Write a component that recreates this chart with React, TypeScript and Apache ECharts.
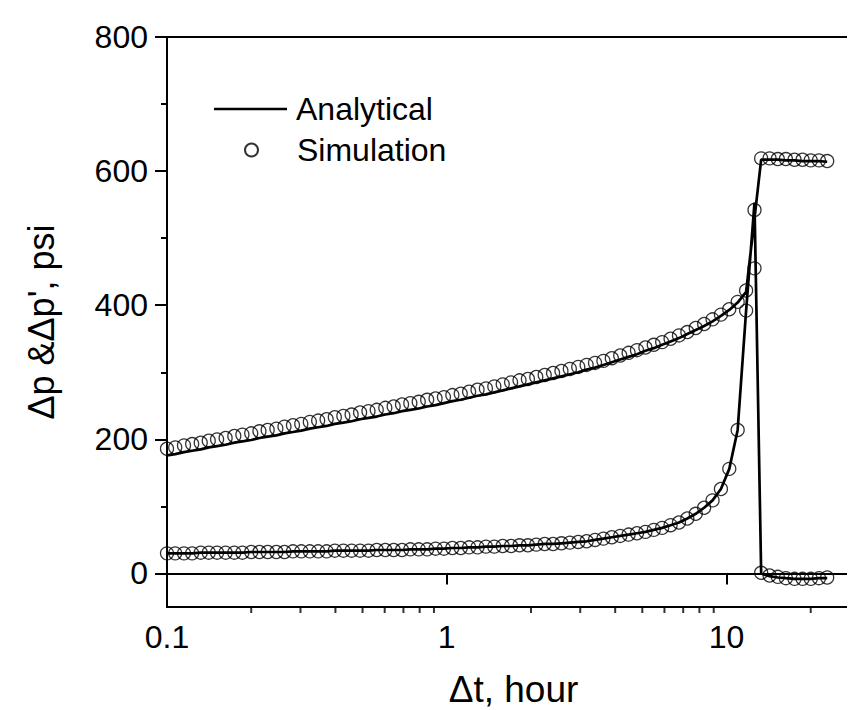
import React, { useEffect, useRef } from "react";
import * as echarts from "echarts";

// time (hours) for the early part of the test
const tEarly = [
  0.1, 0.107, 0.115, 0.123, 0.132, 0.141, 0.151, 0.162, 0.174, 0.186,
  0.2, 0.214, 0.229, 0.246, 0.263, 0.282, 0.302, 0.324, 0.347, 0.372,
  0.398, 0.427, 0.457, 0.49, 0.525, 0.562, 0.603, 0.646, 0.692, 0.741,
  0.794, 0.851, 0.912, 0.977, 1.047, 1.122, 1.202, 1.288, 1.38, 1.479,
  1.585, 1.698, 1.82, 1.95, 2.089, 2.239, 2.399, 2.57, 2.754, 2.951,
  3.162, 3.388, 3.631, 3.89, 4.169, 4.467, 4.786, 5.129, 5.495, 5.888,
  6.31, 6.761, 7.244, 7.762, 8.318, 8.913, 9.55, 10.23, 10.96, 11.75,
  12.59,
];
// time after the jump
const tLate = [13.3, 14.25, 15.25, 16.3, 17.5, 18.7, 20.0, 21.4, 22.9];

// Simulation: pressure change (upper)
const upperSim = [
  186, 188, 191, 193, 195, 198, 200, 202, 205, 207,
  209, 212, 214, 216, 219, 221, 223, 226, 228, 230,
  233, 235, 237, 240, 242, 244, 247, 249, 252, 254,
  256, 259, 261, 263, 266, 268, 271, 274, 276, 279,
  282, 285, 288, 290, 293, 296, 299, 302, 305, 308,
  311, 314, 317, 321, 325, 329, 333, 337, 341, 345,
  350, 355, 360, 366, 372, 379, 386, 394, 405, 422,
  455,
];
const upperSimLate = [619, 619, 618, 618, 617, 617, 616, 616, 615];

// Simulation: derivative (lower)
const lowerSim = [
  30, 30, 30, 30, 31, 31, 31, 31, 31, 31,
  32, 32, 32, 32, 32, 33, 33, 33, 33, 33,
  34, 34, 34, 34, 34, 35, 35, 35, 35, 36,
  36, 36, 37, 37, 38, 38, 39, 39, 40, 40,
  41, 41, 42, 42, 43, 44, 44, 45, 46, 47,
  48, 50, 52, 54, 56, 58, 60, 62, 65, 68,
  72, 76, 82, 89, 98, 109, 126, 156, 214, 392,
  542,
];
const lowerSimLate = [1, -3, -5, -7, -8, -8, -8, -7, -6];

// Analytical: pressure change (upper), first 70 early times
const upperAna = [
  176, 178, 181, 183, 185, 188, 190, 192, 195, 197,
  199, 202, 204, 206, 209, 211, 213, 216, 218, 220,
  223, 225, 227, 230, 232, 234, 237, 239, 242, 244,
  246, 249, 251, 254, 257, 259, 262, 265, 267, 270,
  273, 276, 279, 282, 285, 288, 291, 294, 297, 300,
  304, 307, 311, 315, 319, 323, 327, 332, 336, 341,
  346, 351, 357, 363, 369, 376, 384, 393, 404, 420,
];
const upperAnaLate = [617, 617, 617, 616, 616, 615, 615, 615, 614];

// Analytical: derivative (lower)
const lowerAna = [
  30, 30, 30, 30, 31, 31, 31, 31, 31, 31,
  32, 32, 32, 32, 32, 33, 33, 33, 33, 33,
  34, 34, 34, 34, 34, 35, 35, 35, 35, 36,
  36, 36, 37, 37, 38, 38, 39, 39, 40, 40,
  41, 41, 42, 42, 43, 44, 44, 45, 46, 47,
  48, 50, 52, 54, 56, 58, 60, 62, 65, 68,
  72, 76, 82, 89, 98, 109, 126, 156, 214, 392,
  553,
];
const lowerAnaLate = [0, -4, -6, -7, -8, -8, -8, -7, -7];

// axes
const xTickValues = [0.1, 1, 10];
const xTickLabels = ["0.1", "1", "10"];
const xMinorTicks = [0.2, 0.3, 0.4, 0.5, 0.6, 0.7, 0.8, 0.9, 2, 3, 4, 5, 6, 7, 8, 9, 20];
const yMajorTicks = [0, 200, 400, 600, 800];
const yMinorTicks = [100, 300, 500, 700];

const FONT = "'Liberation Sans', Arial, sans-serif";

export default function App() {
  const ref = useRef<HTMLDivElement>(null);
  useEffect(() => {
    if (!ref.current) return;
    const chart = echarts.init(ref.current, undefined, { renderer: "svg" });

    const pair = (ts: number[], vs: number[]) => vs.map((v, i) => [ts[i], v]);
    const anaData: any[] = [
      ...pair(tEarly.slice(0, upperAna.length), upperAna),
      ...pair(tLate, upperAnaLate),
      "-",
      ...pair(tEarly, lowerAna),
      ...pair(tLate, lowerAnaLate),
    ];
    const simData: any[] = [
      ...pair(tEarly, upperSim),
      ...pair(tLate, upperSimLate),
      ...pair(tEarly, lowerSim),
      ...pair(tLate, lowerSimLate),
    ];

    const legendText = { fontSize: 32, fontFamily: FONT, color: "#000", lineHeight: 32 };

    chart.setOption({
      animation: false,
      backgroundColor: "#fff",
      grid: {
        left: 159,
        top: 29,
        width: 706,
        height: 570,
        show: true,
        borderColor: "#000",
        borderWidth: 2,
        backgroundColor: "transparent",
      },
      legend: [
        {
          data: [{ name: "Analytical", icon: "rect" }],
          left: 206,
          top: 85,
          padding: 0,
          itemWidth: 73,
          itemHeight: 2.7,
          itemStyle: { color: "#000", borderWidth: 0 },
          textStyle: { ...legendText, padding: [0, 0, 0, 4] },
        },
        {
          data: ["Simulation"],
          left: 236,
          top: 126,
          padding: 0,
          itemWidth: 13,
          itemHeight: 13,
          textStyle: { ...legendText, padding: [0, 0, 0, 34] },
        },
      ],
      xAxis: {
        type: "log",
        logBase: 10,
        min: 0.1,
        max: 30,
        name: "\u0394t, hour",
        nameLocation: "middle",
        nameGap: 64,
        nameTextStyle: { fontSize: 37, fontFamily: FONT, color: "#000" },
        axisLine: { show: true, lineStyle: { color: "#000", width: 2 } },
        axisTick: { show: true, inside: false, length: 11, lineStyle: { color: "#000", width: 2 } },
        axisLabel: {
          margin: 14,
          fontSize: 32,
          fontFamily: FONT,
          color: "#000",
          formatter: (v: number) => {
            const i = xTickValues.findIndex((t) => Math.abs(Math.log10(t) - Math.log10(v)) < 1e-6);
            return i >= 0 ? xTickLabels[i] : "";
          },
        },
        splitLine: { show: false },
        minorTick: { show: false },
      },
      yAxis: [
        {
          type: "value",
          min: -50,
          max: 800,
          name: "\u0394p &\u0394p', psi",
          nameLocation: "middle",
          nameGap: 108,
          nameTextStyle: { fontSize: 36, fontFamily: FONT, color: "#000" },
          axisLine: { show: true, lineStyle: { color: "#000", width: 2 } },
          axisTick: {
            show: true,
            inside: false,
            length: 12,
            customValues: yMajorTicks,
            lineStyle: { color: "#000", width: 2 },
          },
          axisLabel: {
            customValues: yMajorTicks,
            margin: 19,
            fontSize: 32,
            fontFamily: FONT,
            color: "#000",
          },
          splitLine: { show: false },
        },
        {
          type: "value",
          min: -50,
          max: 800,
          position: "left",
          axisLine: { show: false },
          axisTick: {
            show: true,
            inside: false,
            length: 6,
            customValues: yMinorTicks,
            lineStyle: { color: "#000", width: 2 },
          },
          axisLabel: { show: false },
          splitLine: { show: false },
        },
      ],
      series: [
        {
          name: "Simulation",
          type: "scatter",
          data: simData,
          symbol: "circle",
          symbolSize: 13,
          itemStyle: { color: "rgba(255,255,255,0)", borderColor: "#000", borderWidth: 1.3 },
          z: 2,
        },
        {
          name: "Analytical",
          type: "line",
          data: anaData,
          symbol: "none",
          showSymbol: false,
          connectNulls: false,
          lineStyle: { color: "#000", width: 2.7 },
          itemStyle: { color: "#000" },
          z: 3,
        },
        {
          name: "minorX",
          type: "scatter",
          data: xMinorTicks.map((v) => [v, -50]),
          symbol: "rect",
          symbolSize: [2, 6],
          symbolOffset: [0, 3],
          itemStyle: { color: "#000" },
          clip: false,
          silent: true,
          z: 4,
        },
      ],
    });
    return () => chart.dispose();
  }, []);
  return <div ref={ref} style={{ width: 855, height: 710 }} />;
}
